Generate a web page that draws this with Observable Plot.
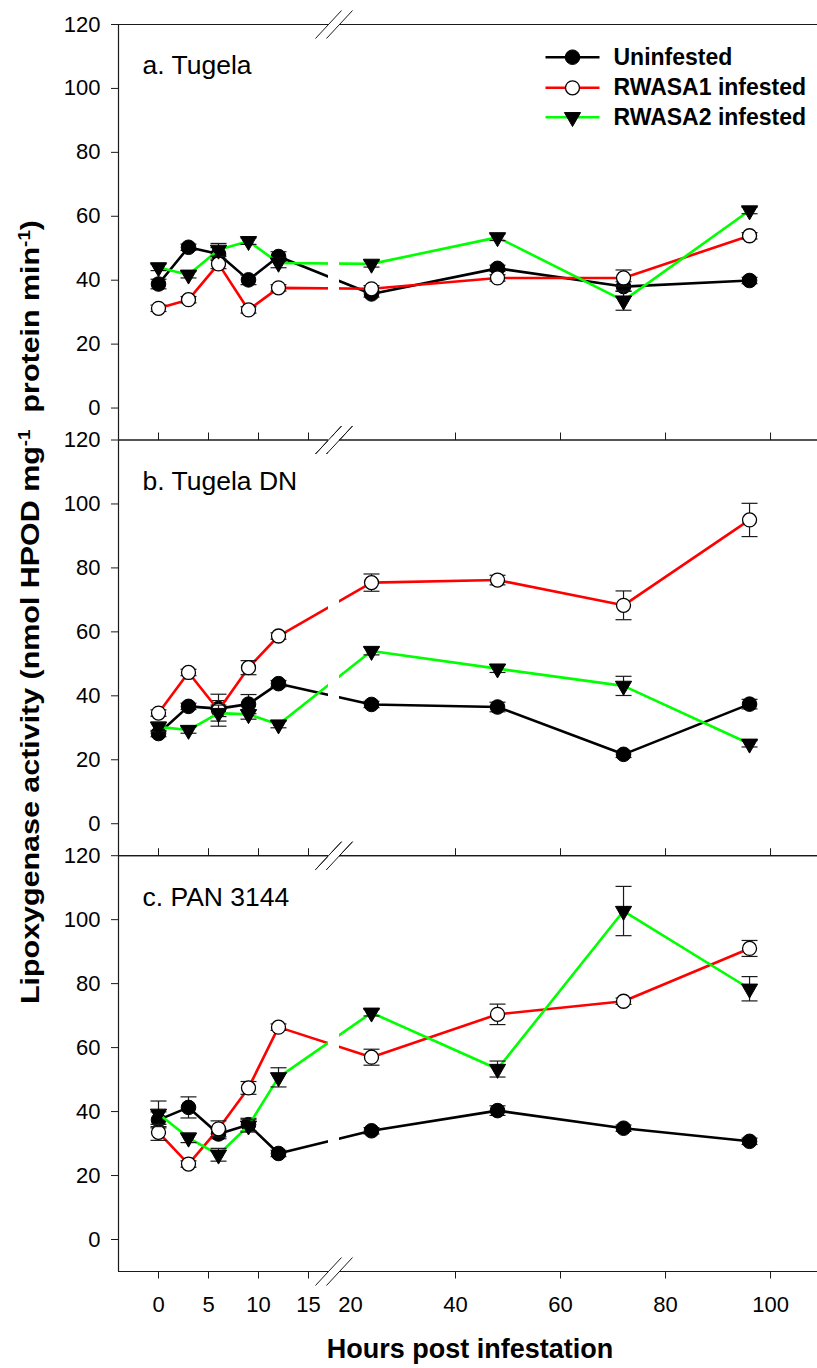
<!DOCTYPE html>
<html>
<head>
<meta charset="utf-8">
<script src="https://cdn.jsdelivr.net/npm/d3@7"></script>
<script src="https://cdn.jsdelivr.net/npm/@observablehq/plot@0.6"></script>
<style>
  html, body { margin: 0; padding: 0; background: #fff; }
  #chart { position: relative; width: 817px; height: 1368px; font-family: "Liberation Sans", Arial, sans-serif; color: #000; }
  #chart svg { position: absolute; left: 0; top: 0; }
  .ytitle { position: absolute; left: 30px; top: 612px; transform: translate(-50%, -50%) rotate(-90deg) scaleX(1.17);
            white-space: nowrap; font-weight: bold; font-size: 26px; line-height: 1; }
  .xtitle { position: absolute; left: 470px; top: 1336px; transform: translateX(-50%);
            white-space: nowrap; font-weight: bold; font-size: 27px; line-height: 1; }
  .sup { font-size: 0.62em; position: relative; top: -0.55em; }
</style>
</head>
<body>
<div id="chart"></div>
<script>
// ---------------- data ----------------
const hours = [0, 3, 6, 9, 12, 24, 48, 72, 96];
const seriesNames = ["Uninfested", "RWASA1 infested", "RWASA2 infested"];
const panelTitles = ["a. Tugela", "b. Tugela DN", "c. PAN 3144"];

const tugelaUninf    = [38.8, 50.3, 48.2, 40.1, 47.4, 35.7, 43.7, 38.0, 39.9];
const tugelaUninfSE  = [1.5, 1.0, 2.0, 1.5, 1.5, 1.0, 1.0, 1.5, 1.0];
const tugelaRw1      = [31.2, 33.9, 45.1, 30.7, 37.6, 37.3, 40.7, 40.7, 53.9];
const tugelaRw1SE    = [1.0, 1.0, 1.5, 1.0, 1.0, 1.0, 1.0, 2.5, 1.0];
const tugelaRw2      = [44.0, 41.7, 49.5, 52.2, 45.4, 45.1, 53.4, 33.6, 61.8];
const tugelaRw2SE    = [1.0, 1.0, 2.0, 1.0, 1.5, 1.0, 1.0, 3.0, 1.0];

const dnUninf        = [28.2, 36.7, 36.0, 37.4, 43.8, 37.3, 36.5, 21.7, 37.4];
const dnUninfSE      = [1.0, 1.0, 2.5, 3.0, 1.0, 1.0, 1.5, 1.0, 1.5];
const dnRw1          = [34.6, 47.3, 35.5, 48.8, 58.7, 75.4, 76.2, 68.3, 95.0];
const dnRw1SE        = [1.0, 1.0, 5.0, 2.2, 1.0, 2.7, 1.5, 4.5, 5.2];
const dnRw2          = [30.3, 29.3, 34.6, 34.2, 31.0, 54.0, 48.5, 43.1, 25.0];
const dnRw2SE        = [1.5, 1.0, 2.5, 1.5, 1.0, 1.2, 1.2, 3.0, 1.0];

const panUninf       = [37.4, 41.3, 33.0, 35.9, 26.9, 34.0, 40.3, 34.8, 30.7];
const panUninfSE     = [2.5, 3.3, 1.5, 2.0, 1.0, 1.0, 1.5, 1.0, 1.0];
const panRw1         = [33.5, 23.6, 34.6, 47.4, 66.4, 57.0, 70.4, 74.5, 91.0];
const panRw1SE       = [2.5, 1.0, 2.5, 2.0, 1.0, 2.5, 3.2, 1.0, 2.5];
const panRw2         = [39.3, 31.8, 26.5, 35.6, 50.7, 70.9, 53.3, 102.7, 78.4];
const panRw2SE       = [4.0, 1.5, 2.0, 2.0, 3.0, 1.0, 2.5, 7.7, 3.8];

const yTicks = [0, 20, 40, 60, 80, 100, 120];
const xTickMarks = [0, 5, 10, 15, 40, 60, 80, 100];
const xTickLabels = [0, 5, 10, 15, 20, 40, 60, 80, 100];

const panelValues = [
  [tugelaUninf, tugelaRw1, tugelaRw2],
  [dnUninf, dnRw1, dnRw2],
  [panUninf, panRw1, panRw2]
];
const panelSE = [
  [tugelaUninfSE, tugelaRw1SE, tugelaRw2SE],
  [dnUninfSE, dnRw1SE, dnRw2SE],
  [panUninfSE, panRw1SE, panRw2SE]
];

// ---------------- layout / style ----------------
const W = 817, H = 1368;
const yDomain = [-10, 120];
// broken x axis: left piece -4..17 h, right piece 17.905..109 h
const xDomain = [-4, 17, 17.905, 109];
const xRange = [118, 328, 339, 817.3];
const frameTops = [24, 439.5, 855.2];
const frameBottoms = [439.5, 855.2, 1271];
const axisColor = "#1a1a1a";
const fontFamily = '"Liberation Sans", Arial, Helvetica, sans-serif';

const seriesStyle = [
  {line: "#000000", symbol: "circle",   fill: "#000000", r: 7.3, rotate: 0,   sw: 1},
  {line: "#ff0000", symbol: "circle",   fill: "#ffffff", r: 7.0, rotate: 0,   sw: 1.3},
  {line: "#00ff00", symbol: "triangle", fill: "#000000", r: 6.0, rotate: 180, sw: 1}
];

// custom symbols
const capSym   = {draw(c, s) { const r = Math.sqrt(s / Math.PI); c.moveTo(-r, 0); c.lineTo(r, 0); }};
const hlineSym = capSym;
const tickUpSym = {draw(c, s) { const r = Math.sqrt(s / Math.PI); c.moveTo(0, 0); c.lineTo(0, -r); }};
const slashSym = {draw(c, s) { const r = Math.sqrt(s / Math.PI); c.moveTo(-0.93 * r, r); c.lineTo(0.93 * r, -r); }};

const legendDx = 454, legendTextDx = 495;
const legendDy = [32.7, 63.3, 92.7];

function buildPanel(p) {
  const marks = [];
  marks.push(Plot.ruleY([yDomain[0], yDomain[1]], {stroke: axisColor, strokeWidth: 1.2}));
  marks.push(Plot.ruleX([xDomain[0]], {stroke: axisColor, strokeWidth: 1.2}));
  if (p < 2) {
    marks.push(Plot.dot(xTickMarks, {x: d => d, y: yDomain[0], symbol: tickUpSym, r: 7.5,
      stroke: axisColor, strokeWidth: 1, fill: "none"}));
  }
  for (let s = 0; s < 3; s++) {
    const st = seriesStyle[s];
    const rows = hours.map((h, i) => ({h, v: panelValues[p][s][i], se: panelSE[p][s][i]}));
    marks.push(Plot.line(rows, {x: "h", y: "v", stroke: st.line, strokeWidth: 2.6}));
    marks.push(Plot.link(rows, {x1: "h", x2: "h", y1: d => d.v - d.se, y2: d => d.v + d.se,
      stroke: axisColor, strokeWidth: 1.2}));
    marks.push(Plot.dot(rows, {x: "h", y: d => d.v + d.se, symbol: capSym, r: 8, stroke: axisColor, strokeWidth: 1.2, fill: "none"}));
    marks.push(Plot.dot(rows, {x: "h", y: d => d.v - d.se, symbol: capSym, r: 8, stroke: axisColor, strokeWidth: 1.2, fill: "none"}));
    marks.push(Plot.dot(rows, {x: "h", y: "v", symbol: st.symbol, r: st.r, rotate: st.rotate,
      fill: st.fill, stroke: "#000", strokeWidth: st.sw}));
  }
  marks.push(Plot.rect([{a: xDomain[1], b: xDomain[2]}], {x1: "a", x2: "b", y1: yDomain[0], y2: yDomain[1],
    fill: "white", insetTop: -3, insetBottom: -3}));
  const breaks = [];
  for (const bx of [xDomain[1], xDomain[2]]) for (const by of yDomain) breaks.push({bx, by});
  marks.push(Plot.dot(breaks, {x: "bx", y: "by", symbol: slashSym, r: 14, stroke: axisColor, strokeWidth: 1, fill: "none"}));
  marks.push(Plot.axisY({ticks: yTicks, tickSize: 7, tickPadding: 11, fontSize: 22, label: null, stroke: axisColor}));
  if (p === 2) {
    marks.push(Plot.axisX({ticks: xTickMarks, tickSize: 7.5, tickFormat: () => "", label: null, stroke: axisColor}));
    marks.push(Plot.axisX({ticks: xTickLabels, tickSize: 0, tickPadding: 25, fontSize: 22, label: null}));
  }
  marks.push(Plot.text([panelTitles[p]], {text: d => d, frameAnchor: "top-left", dx: 24, dy: 31,
    lineAnchor: "top", textAnchor: "start", fontSize: 26.5, fill: "#000"}));
  if (p === 0) {
    for (let s = 0; s < 3; s++) {
      const st = seriesStyle[s];
      marks.push(Plot.dot([0], {frameAnchor: "top-left", dx: legendDx, dy: legendDy[s], symbol: hlineSym, r: 27,
        stroke: st.line, strokeWidth: 2.6, fill: "none"}));
      marks.push(Plot.dot([0], {frameAnchor: "top-left", dx: legendDx, dy: legendDy[s], symbol: st.symbol, r: st.r,
        rotate: st.rotate, fill: st.fill, stroke: "#000", strokeWidth: st.sw}));
      marks.push(Plot.text([seriesNames[s]], {text: d => d, frameAnchor: "top-left", dx: legendTextDx, dy: legendDy[s],
        textAnchor: "start", lineAnchor: "middle", fontWeight: "bold", fontSize: 23, fill: "#000"}));
    }
  }
  const opts = {
    width: W, height: H,
    marginLeft: xRange[0], marginRight: 0,
    marginTop: frameTops[p], marginBottom: H - frameBottoms[p],
    x: {type: "linear", domain: xDomain, range: xRange},
    y: {domain: yDomain},
    style: {background: "transparent", overflow: "visible", fontFamily, fontSize: "22px", color: "#000"},
    marks
  };
  if (p !== 2) opts.x.axis = null;
  return Plot.plot(opts);
}

const chart = document.getElementById("chart");
for (let p = 0; p < 3; p++) chart.appendChild(buildPanel(p));

const yt = document.createElement("div");
yt.className = "ytitle";
yt.innerHTML = 'Lipoxygenase activity (nmol HPOD mg<span class="sup">-1</span>&nbsp; protein min<span class="sup">-1</span>)';
chart.appendChild(yt);
const xt = document.createElement("div");
xt.className = "xtitle";
xt.textContent = "Hours post infestation";
chart.appendChild(xt);
</script>
</body>
</html>
